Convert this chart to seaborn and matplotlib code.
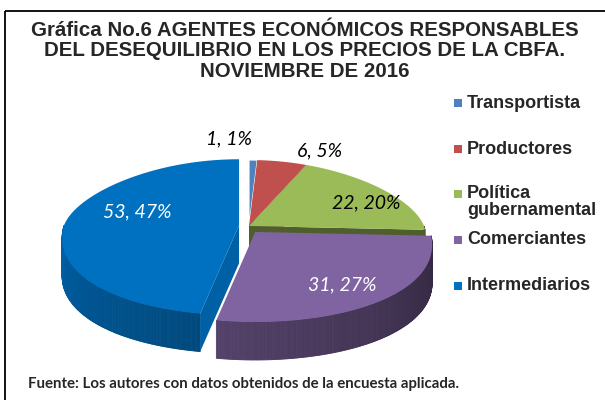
import numpy as np
import matplotlib
matplotlib.use("Agg")
import matplotlib.pyplot as plt
from matplotlib.patches import Polygon, Rectangle
import seaborn as sns

sns.set_style("white")
plt.rcParams['font.family'] = ['Liberation Sans', 'DejaVu Sans']

# datos
agentes = ["Transportista", "Productores", "Política\ngubernamental",
           "Comerciantes", "Intermediarios"]
valores = [1, 6, 22, 31, 53]
porcentajes = [1, 5, 20, 27, 47]

colores = ["#4F81BD", "#C0504D", "#9BBB59", "#8064A2", "#0070C0"]
explode = [0, 0, 0, 10, 10]
color_etiqueta = ["black", "black", "black", "white", "white"]
pos_etiqueta = [(229, 139), (320, 151), (366, 203), (342, 285), (137, 212)]
legend_y = [103, 149, 194, 240, 286]

# geometria del pastel 3d (en pixeles)
CX, CY = 249, 226
A = 175
B_BACK, B_FRONT = 66, 90
K = 0.15
D = 38


def rim(phi, r=1.0):
    p = np.radians(phi)
    c = np.cos(p)
    x = A * r * np.sin(p) * (1 - K * c)
    y = -np.where(c > 0, B_BACK, B_FRONT) * r * c
    return x, y


def shade(color, f):
    rgb = np.array(matplotlib.colors.to_rgb(color))
    return tuple(np.clip(rgb * f, 0, 1))


fig = plt.figure(figsize=(6.05, 4.0), dpi=100)
ax = fig.add_axes([0, 0, 1, 1])
ax.set_xlim(0, 605)
ax.set_ylim(400, 0)
ax.axis('off')

total = sum(valores)
inicio = np.cumsum([0] + valores[:-1]) / total * 360
fin = np.cumsum(valores) / total * 360

for i in range(len(valores)):
    s, e = inicio[i], fin[i]
    mid = np.radians((s + e) / 2)
    ox = CX + explode[i] * np.sin(mid)
    oy = CY - explode[i] * np.cos(mid) * 0.76
    col = colores[i]

    # pared exterior (solo la parte frontal)
    a0, a1 = max(s, 90), min(e, 270)
    if a1 > a0:
        n = int((a1 - a0) * 2) + 2
        ph = np.linspace(a0, a1, n)
        for j in range(n - 1):
            seg = np.linspace(ph[j], ph[j + 1], 3)
            x, y = rim(seg)
            f = 0.38 + 0.48 * ((seg.mean() - 90) / 180)
            pts = np.column_stack([np.r_[x, x[::-1]] + ox,
                                   np.r_[y, y[::-1] + D] + oy])
            ax.add_patch(Polygon(pts, closed=True, fc=shade(col, f),
                                 ec=shade(col, f), lw=0.6))

    # caras de corte visibles
    for ang, visible, f in [(s, np.sin(np.radians(s)) < -1e-6, 0.86),
                            (e, np.sin(np.radians(e)) > 1e-6, 0.5)]:
        if visible:
            x, y = rim(np.array([ang]))
            pts = [(ox, oy), (ox + x[0], oy + y[0]),
                   (ox + x[0], oy + y[0] + D), (ox, oy + D)]
            ax.add_patch(Polygon(pts, closed=True, fc=shade(col, f),
                                 ec='none'))

    # superficie superior
    ph = np.linspace(s, e, max(int(e - s) * 2, 4))
    x, y = rim(ph)
    pts = np.column_stack([np.r_[0, x] + ox, np.r_[0, y] + oy])
    ax.add_patch(Polygon(pts, closed=True, fc=col,
                         ec='white' if i == 0 else 'none', lw=0.8))

# etiquetas de datos
for i in range(len(valores)):
    ax.text(pos_etiqueta[i][0], pos_etiqueta[i][1],
            f"{valores[i]}, {porcentajes[i]}%", ha='center', va='center',
            fontsize=14, style='italic', color=color_etiqueta[i],
            family=['Lato', 'DejaVu Sans'])

# leyenda
for i in range(len(agentes)):
    ax.add_patch(Rectangle((454, legend_y[i] - 4), 8, 8, fc=colores[i],
                           ec='none'))
    ax.text(467, legend_y[i] - 8.5, agentes[i], ha='left', va='top',
            fontsize=13, fontweight='bold', linespacing=0.95)

ax.text(305, 51, "Gráfica No.6 AGENTES ECONÓMICOS RESPONSABLES\n"
        "DEL DESEQUILIBRIO EN LOS PRECIOS DE LA CBFA.\nNOVIEMBRE DE 2016",
        ha='center', va='center', fontsize=14.8, fontweight='bold',
        linespacing=1.1)

ax.text(28, 384, "Fuente: Los autores con datos obtenidos de la encuesta aplicada.",
        ha='left', va='center', fontsize=10.8, fontweight='bold',
        family=['Lato', 'DejaVu Sans'])

ax.add_patch(Rectangle((4.5, 10.5), 700, 500, fc='none', ec='black', lw=1.3))

fig.savefig("out.png", dpi=100)
